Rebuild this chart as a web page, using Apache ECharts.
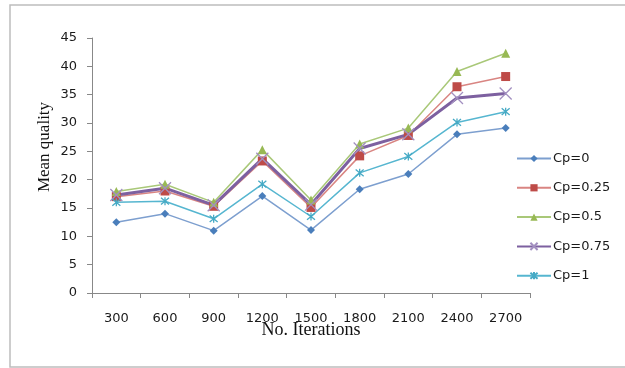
<!DOCTYPE html>
<html>
<head>
<meta charset="utf-8">
<script src="https://cdn.jsdelivr.net/npm/echarts@6/dist/echarts.min.js"></script>
<style>
  html, body { margin: 0; padding: 0; background: #fff; }
  #chart { width: 625px; height: 368px; }
</style>
</head>
<body>
<div id="chart"></div>
<script>
// Iteration counts along the x axis
const iterations = ['300', '600', '900', '1200', '1500', '1800', '2100', '2400', '2700'];

// Mean quality per Cp setting
const cp0    = [12.5, 14.0, 11.0, 17.1, 11.1, 18.3, 21.0, 28.0, 29.1];
const cp025  = [17.0, 18.0, 15.3, 23.3, 15.1, 24.2, 27.8, 36.4, 38.2];
const cp05   = [17.9, 19.2, 16.0, 25.3, 16.4, 26.3, 29.1, 39.1, 42.3];
const cp075  = [17.3, 18.5, 15.5, 23.7, 15.6, 25.5, 28.0, 34.4, 35.2];
const cp1    = [16.0, 16.2, 13.1, 19.2, 13.5, 21.2, 24.1, 30.1, 32.0];

const seriesNames = ['Cp=0', 'Cp=0.25', 'Cp=0.5', 'Cp=0.75', 'Cp=1'];

const xMark = 'path://M0,0L10,10M10,0L0,10';
const starMark = 'path://M0,0L10,10M10,0L0,10M5,-1L5,11';

function lineSeries(name, data, color, symbol, size, width, markColor, stroke) {
  return {
    name: name,
    type: 'line',
    data: data,
    symbol: symbol,
    symbolSize: size,
    showSymbol: true,
    lineStyle: { color: color, width: width },
    itemStyle: stroke
      ? { color: markColor, borderColor: markColor, borderWidth: 1.3 }
      : { color: markColor, borderWidth: 0 },
    emphasis: { disabled: true },
    animation: false
  };
}

const chart = echarts.init(document.getElementById('chart'), null, { renderer: 'canvas' });
chart.setOption({
  backgroundColor: '#ffffff',
  graphic: [
    {
      type: 'rect',
      shape: { x: 10, y: 5, width: 640, height: 362 },
      style: { fill: 'none', stroke: '#bdbdbd', lineWidth: 1.5 },
      silent: true
    },
    {
      // y axis title
      type: 'text',
      x: 45,
      y: 147,
      rotation: Math.PI / 2,
      style: {
        text: 'Mean quality',
        fontFamily: 'Liberation Serif',
        fontSize: 17,
        fill: '#111',
        align: 'center',
        verticalAlign: 'middle'
      },
      silent: true
    }
  ],
  grid: { left: 92, right: 95, top: 38, bottom: 75, containLabel: false },
  xAxis: {
    type: 'category',
    data: iterations,
    boundaryGap: true,
    name: 'No. Iterations',
    nameLocation: 'middle',
    nameGap: 28,
    nameMoveOverlap: false,
    nameTextStyle: { fontFamily: 'Liberation Serif', fontSize: 18, color: '#111' },
    axisLine: { lineStyle: { color: '#888', width: 1 } },
    axisTick: { show: true, alignWithLabel: false, length: 5, lineStyle: { color: '#888' } },
    axisLabel: { fontFamily: 'DejaVu Sans', fontSize: 13, color: '#1a1a1a', margin: 19, interval: 0 },
    splitLine: { show: false }
  },
  yAxis: {
    type: 'value',
    min: 0,
    max: 45,
    interval: 5,
    axisLine: { show: true, lineStyle: { color: '#888', width: 1 } },
    axisTick: { show: true, length: 5, lineStyle: { color: '#888' } },
    axisLabel: { fontFamily: 'DejaVu Sans', fontSize: 13, color: '#1a1a1a', margin: 15 },
    splitLine: { show: false }
  },
  legend: {
    orient: 'vertical',
    left: 511,
    top: 147,
    itemWidth: 34,
    itemHeight: 9,
    itemGap: 16.3,
    textStyle: { fontFamily: 'DejaVu Sans', fontSize: 13, color: '#1a1a1a', padding: [0, 0, 0, -3] },
    data: seriesNames
  },
  series: [
    lineSeries(seriesNames[0], cp0,   '#7d9fcf', 'diamond',  8,  1.5, '#4a7ebb', false),
    lineSeries(seriesNames[1], cp025, '#d98582', 'rect',     9,  1.5, '#be4b48', false),
    lineSeries(seriesNames[2], cp05,  '#a9c878', 'triangle', 9,  1.5, '#98b954', false),
    lineSeries(seriesNames[3], cp075, '#7d60a0', xMark,      12, 3,   '#a28fc0', true),
    lineSeries(seriesNames[4], cp1,   '#56b6d0', starMark,   8,  1.5, '#46aac5', true)
  ]
});
</script>
</body>
</html>
